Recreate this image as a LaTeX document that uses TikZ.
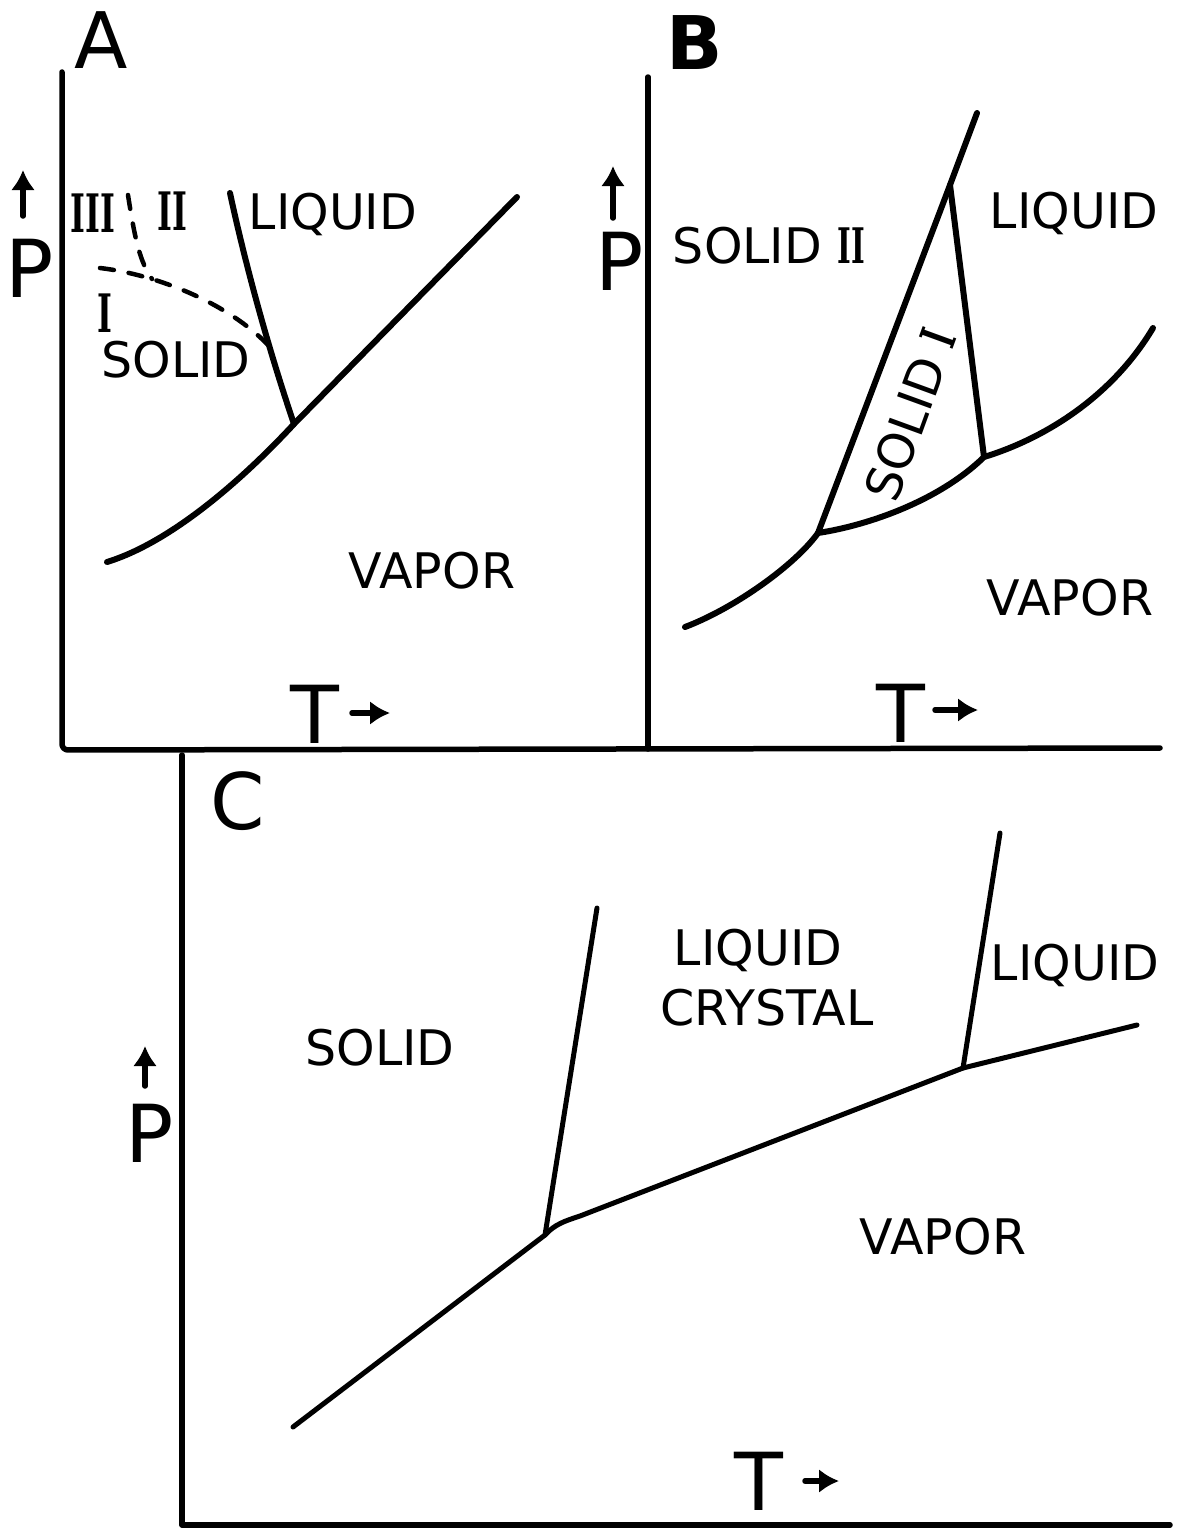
\documentclass[tikz,border=0pt]{standalone}
\usepackage{fontspec}
\setsansfont{DejaVu Sans}
\newfontfamily\numfont{DejaVu Serif}
\usetikzlibrary{arrows.meta}
\newcommand{\rnum}[1]{\scalebox{0.6}[1]{\numfont\bfseries #1}}

\begin{document}
\begin{tikzpicture}[x=1pt, y=-1pt, line cap=round, line join=round,
  axis/.style={line width=5.5pt},
  phase/.style={line width=6pt},
  thinphase/.style={line width=5pt},
  guess/.style={line width=4.5pt, dash pattern=on 14pt off 15pt},
  lab/.style={font=\sffamily\fontsize{49}{49}\selectfont, inner sep=0pt, anchor=base},
  panel/.style={font=\sffamily\fontsize{78}{78}\selectfont, inner sep=0pt, anchor=base},
  var/.style={font=\sffamily\fontsize{80}{80}\selectfont, inner sep=0pt, anchor=base},
  num/.style={font=\fontsize{53}{53}\selectfont, inner sep=0pt, anchor=base},
  up/.style={line width=5.5pt, -{Latex[length=20pt,width=24pt]}}]
  \useasboundingbox (0,0) rectangle (1179,1528);

  % axes
  \coordinate (axA) at (62,72);
  \coordinate (orgA) at (62,750);
  \coordinate (endAB) at (1160,748);
  \coordinate (axB) at (648,77);
  \coordinate (orgB) at (648,749);
  \coordinate (axC) at (182,755);
  \coordinate (orgC) at (182,1525);
  \coordinate (endC) at (1170,1525);
  \draw[axis, rounded corners=6pt] (axA) -- (orgA) -- (endAB);
  \draw[axis] (axB) -- (orgB);
  \draw[axis] (axC) -- (orgC) -- (endC);

  % panel A
  \node[panel] (labA) at (101,68) {A};
  \node[var] (pA) at (30,297) {P};
  \node[var] (tA) at (315,743) {T};
  \coordinate (pAtail) at (23,216);
  \coordinate (pAtip) at (23,170);
  \coordinate (tAtail) at (352,713);
  \coordinate (tAtip) at (390,713);
  \draw[up] (pAtail) -- (pAtip);
  \draw[up] (tAtail) -- (tAtip);
  \node[num] (iiiA) at (93,232) {\rnum{III}};
  \node[num] (iiA) at (172,230) {\rnum{II}};
  \node[num] (iA) at (105,332) {\rnum{I}};
  \node[lab] (liquidA) at (333,229) {LIQUID};
  \node[lab] (solidA) at (176,377) {SOLID};
  \node[lab] (vaporA) at (432,588) {VAPOR};
  \coordinate (liqA) at (230,193);
  \coordinate (tpA) at (294,424);
  \coordinate (vapA0) at (107,562);
  \coordinate (vapA1) at (517,197);
  \draw[phase] (liqA) .. controls (240,240) and (262,330) .. (tpA);
  \draw[phase] (vapA0) .. controls (172,542) and (244,478) .. (tpA) -- (vapA1);
  \coordinate (dA0) at (100,268);
  \coordinate (dA1) at (268,345);
  \coordinate (dA2) at (128,195);
  \coordinate (dA3) at (152,279);
  \draw[guess] (dA0) .. controls (160,275) and (230,305) .. (dA1);
  \draw[guess] (dA2) .. controls (135,240) and (140,262) .. (dA3);

  % panel B
  \node[panel, font=\sffamily\bfseries\fontsize{74}{74}\selectfont] (labB) at (695,70) {B};
  \node[var] (pB) at (620,290) {P};
  \node[var] (tB) at (901,742) {T};
  \coordinate (pBtail) at (613,218);
  \coordinate (pBtip) at (613,166);
  \coordinate (tBtail) at (935,710);
  \coordinate (tBtip) at (978,710);
  \draw[up] (pBtail) -- (pBtip);
  \draw[up] (tBtail) -- (tBtip);
  \node[lab] (solidiiB) at (769,263) {SOLID \rnum{II}};
  \node[lab] (liquidB) at (1074,228) {LIQUID};
  \node[lab] (vaporB) at (1070,615) {VAPOR};
  \node[lab, anchor=center, rotate=70] (solidiB) at (910,415) {SOLID \rnum{I}};
  \coordinate (topB) at (977,113);
  \coordinate (kinkB) at (950,185);
  \coordinate (tpB1) at (818,533);
  \coordinate (tpB2) at (984,457);
  \coordinate (lowB) at (685,627);
  \coordinate (endB) at (1153,328);
  \draw[phase] (topB) -- (kinkB) -- (tpB1);
  \draw[phase] (kinkB) -- (tpB2);
  \draw[phase] (lowB) .. controls (735,608) and (795,565) .. (tpB1)
    .. controls (870,525) and (940,500) .. (tpB2)
    .. controls (1040,440) and (1110,400) .. (endB);

  % panel C
  \node[panel] (labC) at (238,829) {C};
  \node[var] (pC) at (150,1162) {P};
  \node[var] (tC) at (759,1510) {T};
  \coordinate (pCtail) at (145,1086);
  \coordinate (pCtip) at (145,1046);
  \coordinate (tCtail) at (805,1481);
  \coordinate (tCtip) at (839,1481);
  \draw[up] (pCtail) -- (pCtip);
  \draw[up] (tCtail) -- (tCtip);
  \node[lab] (solidC) at (380,1065) {SOLID};
  \node[lab] (lcC) at (758,965) {LIQUID};
  \node[lab] (crystalC) at (767,1025) {CRYSTAL};
  \node[lab] (liquidC) at (1075,980) {LIQUID};
  \node[lab] (vaporC) at (943,1254) {VAPOR};
  \coordinate (lowC) at (293,1427);
  \coordinate (tpC1) at (545,1235);
  \coordinate (topC1) at (597,908);
  \coordinate (bendC) at (580,1216);
  \coordinate (tpC2) at (963,1068);
  \coordinate (topC2) at (1000,833);
  \coordinate (endC2) at (1137,1025);
  \draw[thinphase] (lowC) -- (tpC1) -- (topC1);
  \draw[thinphase] (tpC1) .. controls (555,1224) and (565,1221) .. (bendC) -- (tpC2) -- (endC2);
  \draw[thinphase] (tpC2) -- (topC2);
\end{tikzpicture}
\end{document}
